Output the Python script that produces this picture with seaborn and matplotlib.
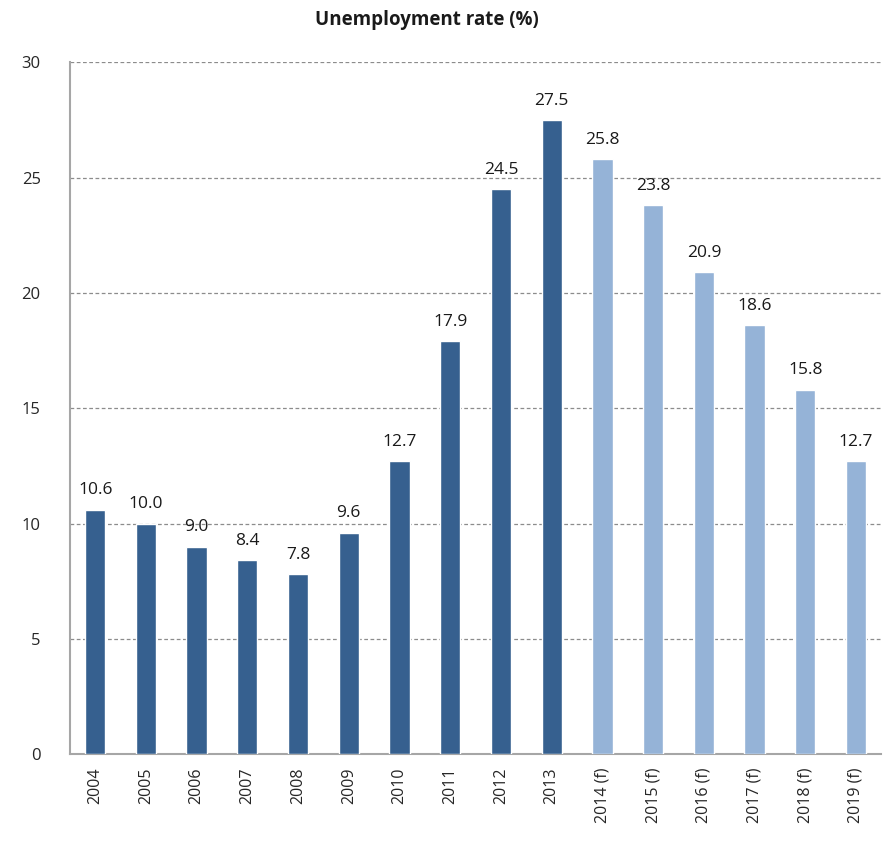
import matplotlib
matplotlib.use("Agg")
import matplotlib.pyplot as plt
import seaborn as sns
import pandas as pd
from matplotlib.ticker import MultipleLocator, FixedLocator

years = ["2004", "2005", "2006", "2007", "2008", "2009", "2010", "2011", "2012", "2013",
         "2014 (f)", "2015 (f)", "2016 (f)", "2017 (f)", "2018 (f)", "2019 (f)"]
rates = [10.6, 10.0, 9.0, 8.4, 7.8, 9.6, 12.7, 17.9, 24.5, 27.5,
         25.8, 23.8, 20.9, 18.6, 15.8, 12.7]
kind = ["actual"] * 10 + ["forecast"] * 6

DARK = "#36608f"
LIGHT = "#95b3d7"
GREY = "#a6a6a6"

df = pd.DataFrame({"year": years, "rate": rates, "kind": kind})

sns.set_style("white")
plt.rcParams["font.family"] = ["Open Sans", "DejaVu Sans"]

fig = plt.figure(figsize=(8.84, 8.55), dpi=100)
ax = fig.add_axes([0.079, 0.118, 0.918, 0.809])

sns.barplot(data=df, x="year", y="rate", hue="kind", dodge=False,
            palette={"actual": DARK, "forecast": LIGHT}, width=0.4,
            saturation=1, legend=False, ax=ax, zorder=3)

for i, v in enumerate(rates):
    ax.text(i, v + 0.5, f"{v:.1f}", ha="center", va="bottom", fontsize=12.5, color="#1a1a1a")

ax.set_ylim(0, 30)
ax.set_xlim(-0.5, len(years) - 0.5)
ax.yaxis.set_major_locator(MultipleLocator(5))
ax.grid(axis="y", color="#8c8c8c", linestyle=(0, (3, 2)), linewidth=0.9, zorder=0)
ax.set_axisbelow(True)

ax.set_xlabel("")
ax.set_ylabel("")
ax.set_xticks(range(len(years)))
ax.set_xticklabels(years, rotation=90, fontsize=11.5, va="top")
ax.tick_params(axis="x", length=0, pad=10)
ax.xaxis.set_minor_locator(FixedLocator([i - 0.5 for i in range(len(years) + 1)]))
ax.tick_params(axis="x", which="minor", length=7, color=GREY, width=1.2)
ax.tick_params(axis="y", length=7, color=GREY, width=1.2, labelsize=12, pad=14)

for s in ["top", "right"]:
    ax.spines[s].set_visible(False)
for s in ["left", "bottom"]:
    ax.spines[s].set_color(GREY)
    ax.spines[s].set_linewidth(1.5)

fig.text(0.483, 0.977, "Unemployment rate (%)", ha="center", va="center",
         fontsize=13.5, fontweight="bold", color="#1a1a1a")

fig.savefig("out.png", dpi=100, facecolor="white")
